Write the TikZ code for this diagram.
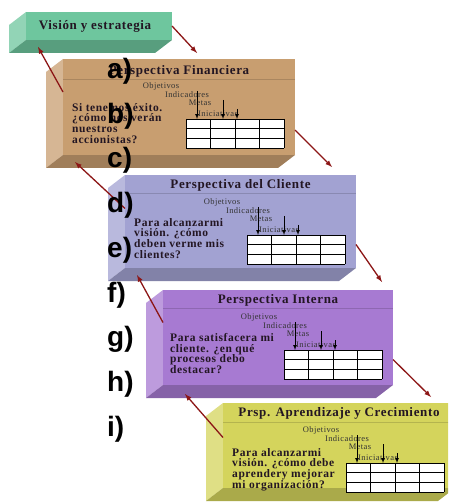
\documentclass[tikz,border=0pt]{standalone}
\usepackage{fontspec}
\setmainfont{Liberation Serif}
\newfontfamily\titleface[LetterSpace=5]{Liberation Serif}
\newfontfamily\askface[LetterSpace=5]{Liberation Serif}
\newfontfamily\tagface[LetterSpace=5]{Liberation Serif}
\newfontfamily\letterface{Liberation Sans}

\definecolor{visgreen}{RGB}{110,198,158}
\definecolor{fintan}{RGB}{200,158,112}
\definecolor{clilav}{RGB}{162,162,210}
\definecolor{intpurple}{RGB}{167,122,210}
\definecolor{apryellow}{RGB}{212,212,92}
\definecolor{flowred}{RGB}{140,22,22}
\definecolor{inkdark}{RGB}{35,22,35}

\tikzset{
	face/.style={rectangle, draw=none, inner sep=0pt, outer sep=0pt},
	title/.style={font=\titleface\bfseries\fontsize{13}{15}\selectfont, text=inkdark, inner sep=0pt},
	ask/.style={font=\askface\bfseries\fontsize{11.5}{10.8}\selectfont, text=inkdark, align=left, anchor=north west, inner sep=0pt},
	tag/.style={font=\tagface\fontsize{8.5}{9}\selectfont, text=black!80, inner sep=0pt},
	cell/.style={draw=black, line width=0.8pt},
	tick/.style={black, line width=0.7pt, arrows={-latex}},
	rule/.style={draw=black, opacity=0.15, line width=0.8pt},
	flow/.style={draw=flowred, line width=1.3pt, arrows={-latex}},
	letter/.style={font=\letterface\bfseries\fontsize{28}{30}\selectfont, anchor=west, inner sep=0pt},
}

% bevelled slab: name, colour, top left x/y, bottom right x/y
\newcommand{\slab}[6]{%
	\fill[#2!75!white] (#3,#4) -- (#3-17,#4+13) -- (#3-17,#6+13) -- (#3,#6) -- cycle;
	\fill[#2!80!black] (#3,#6) -- (#5,#6) -- (#5-17,#6+13) -- (#3-17,#6+13) -- cycle;
	\node[face, fill=#2, minimum width={(#5-#3)*1pt}, minimum height={(#6-#4)*1pt}] (#1) at ({(#3+#5)/2},{(#4+#6)/2}) {};
}

% small table with its four headings
\newcommand{\measures}[3]{%
	\fill[white] (#2,#3) rectangle (#2+98,#3+29);
	\foreach \c in {0,...,4} \draw[cell] (#2+24.5*\c,#3) -- (#2+24.5*\c,#3+29);
	\foreach \r in {0,...,3} \draw[cell] (#2,#3+9.667*\r) -- (#2+98,#3+9.667*\r);
	\node[tag] (#1-obj) at (#2-25,#3-33) {Objetivos};
	\node[tag] (#1-ind) at (#2+1,#3-24) {Indicadores};
	\node[tag] (#1-met) at (#2+14,#3-16) {Metas};
	\node[tag] (#1-ini) at (#2+32,#3-5) {Iniciativas};
	\draw[tick] (#2+11,#3-28) -- (#2+11,#3);
	\draw[tick] (#2+37,#3-19) -- (#2+37,#3);
	\draw[tick] (#2+51,#3-10) -- (#2+51,#3);
}

\begin{document}
\begin{tikzpicture}[x=1pt, y=-1pt]
	\useasboundingbox (0,0) rectangle (448,502);
	\clip (0,0) rectangle (448,502);

	% vision
	\slab{vis}{visgreen}{26}{12}{172}{40}
	\node[title] (vis-t) at ([xshift=-4pt]vis.center) {Visión y estrategia};

	% financial
	\slab{fin}{fintan}{63}{59}{295}{155}
	\draw[rule] ([yshift=-20pt]fin.north west) -- ([yshift=-20pt]fin.north east);
	\node[title] (fin-t) at ([yshift=-12pt]fin.north) {Perspectiva Financiera};
	\node[ask] (fin-q) at ([shift={(9pt,-44pt)}]fin.north west) {Si tenemos éxito.\\¿cómo nos verán\\nuestros\\accionistas?};
	\measures{fin}{186}{119}

	% customer
	\slab{cli}{clilav}{125}{175}{356}{268}
	\draw[rule] ([yshift=-18pt]cli.north west) -- ([yshift=-18pt]cli.north east);
	\node[title] (cli-t) at ([yshift=-10pt]cli.north) {Perspectiva del Cliente};
	\node[ask] (cli-q) at ([shift={(9pt,-43pt)}]cli.north west) {Para alcanzarmi\\visión. ¿cómo\\deben verme mis\\clientes?};
	\measures{cli}{247}{235}

	% internal
	\slab{int}{intpurple}{163}{290}{393}{385}
	\draw[rule] ([yshift=-18pt]int.north west) -- ([yshift=-18pt]int.north east);
	\node[title] (int-t) at ([yshift=-10pt]int.north) {Perspectiva Interna};
	\node[ask] (int-q) at ([shift={(7pt,-43pt)}]int.north west) {Para satisfacera mi\\cliente. ¿en qué\\procesos debo\\destacar?};
	\measures{int}{284}{350}

	% learning
	\slab{apr}{apryellow}{223}{403}{455}{488}
	\draw[rule] ([yshift=-19pt]apr.north west) -- ([yshift=-19pt]apr.north east);
	\node[title] (apr-t) at ([yshift=-10pt]apr.north) {Prsp. Aprendizaje y Crecimiento};
	\node[ask] (apr-q) at ([shift={(9pt,-45pt)}]apr.north west) {Para alcanzarmi\\visión. ¿cómo debe\\aprendery mejorar\\mi organización?};
	\measures{apr}{346}{463}

	% links between the slabs
	\coordinate (t1) at (197,53);
	\coordinate (t2) at (38,47);
	\coordinate (t3) at (332,167);
	\coordinate (t4) at (75,162);
	\coordinate (t5) at (382,282);
	\coordinate (t6) at (137,275);
	\coordinate (t7) at (431,397);
	\coordinate (t8) at (185,394);
	\draw[flow] (vis.east) -- (t1);
	\draw[flow] ([yshift=15pt]fin.west) -- (t2);
	\draw[flow] ([yshift=-23pt]fin.east) -- (t3);
	\draw[flow] ([yshift=13pt]cli.west) -- (t4);
	\draw[flow] ([yshift=-23pt]cli.east) -- (t5);
	\draw[flow] ([yshift=15pt]int.west) -- (t6);
	\draw[flow] ([yshift=-22pt]int.east) -- (t7);
	\draw[flow] ([yshift=8pt]apr.west) -- (t8);

	% answer letters
	\foreach \l [count=\i from 0] in {a,b,c,d,e,f,g,h,i}
		\node[letter] (lab-\l) at (107,71+44.8*\i) {\l)};
\end{tikzpicture}
\end{document}
